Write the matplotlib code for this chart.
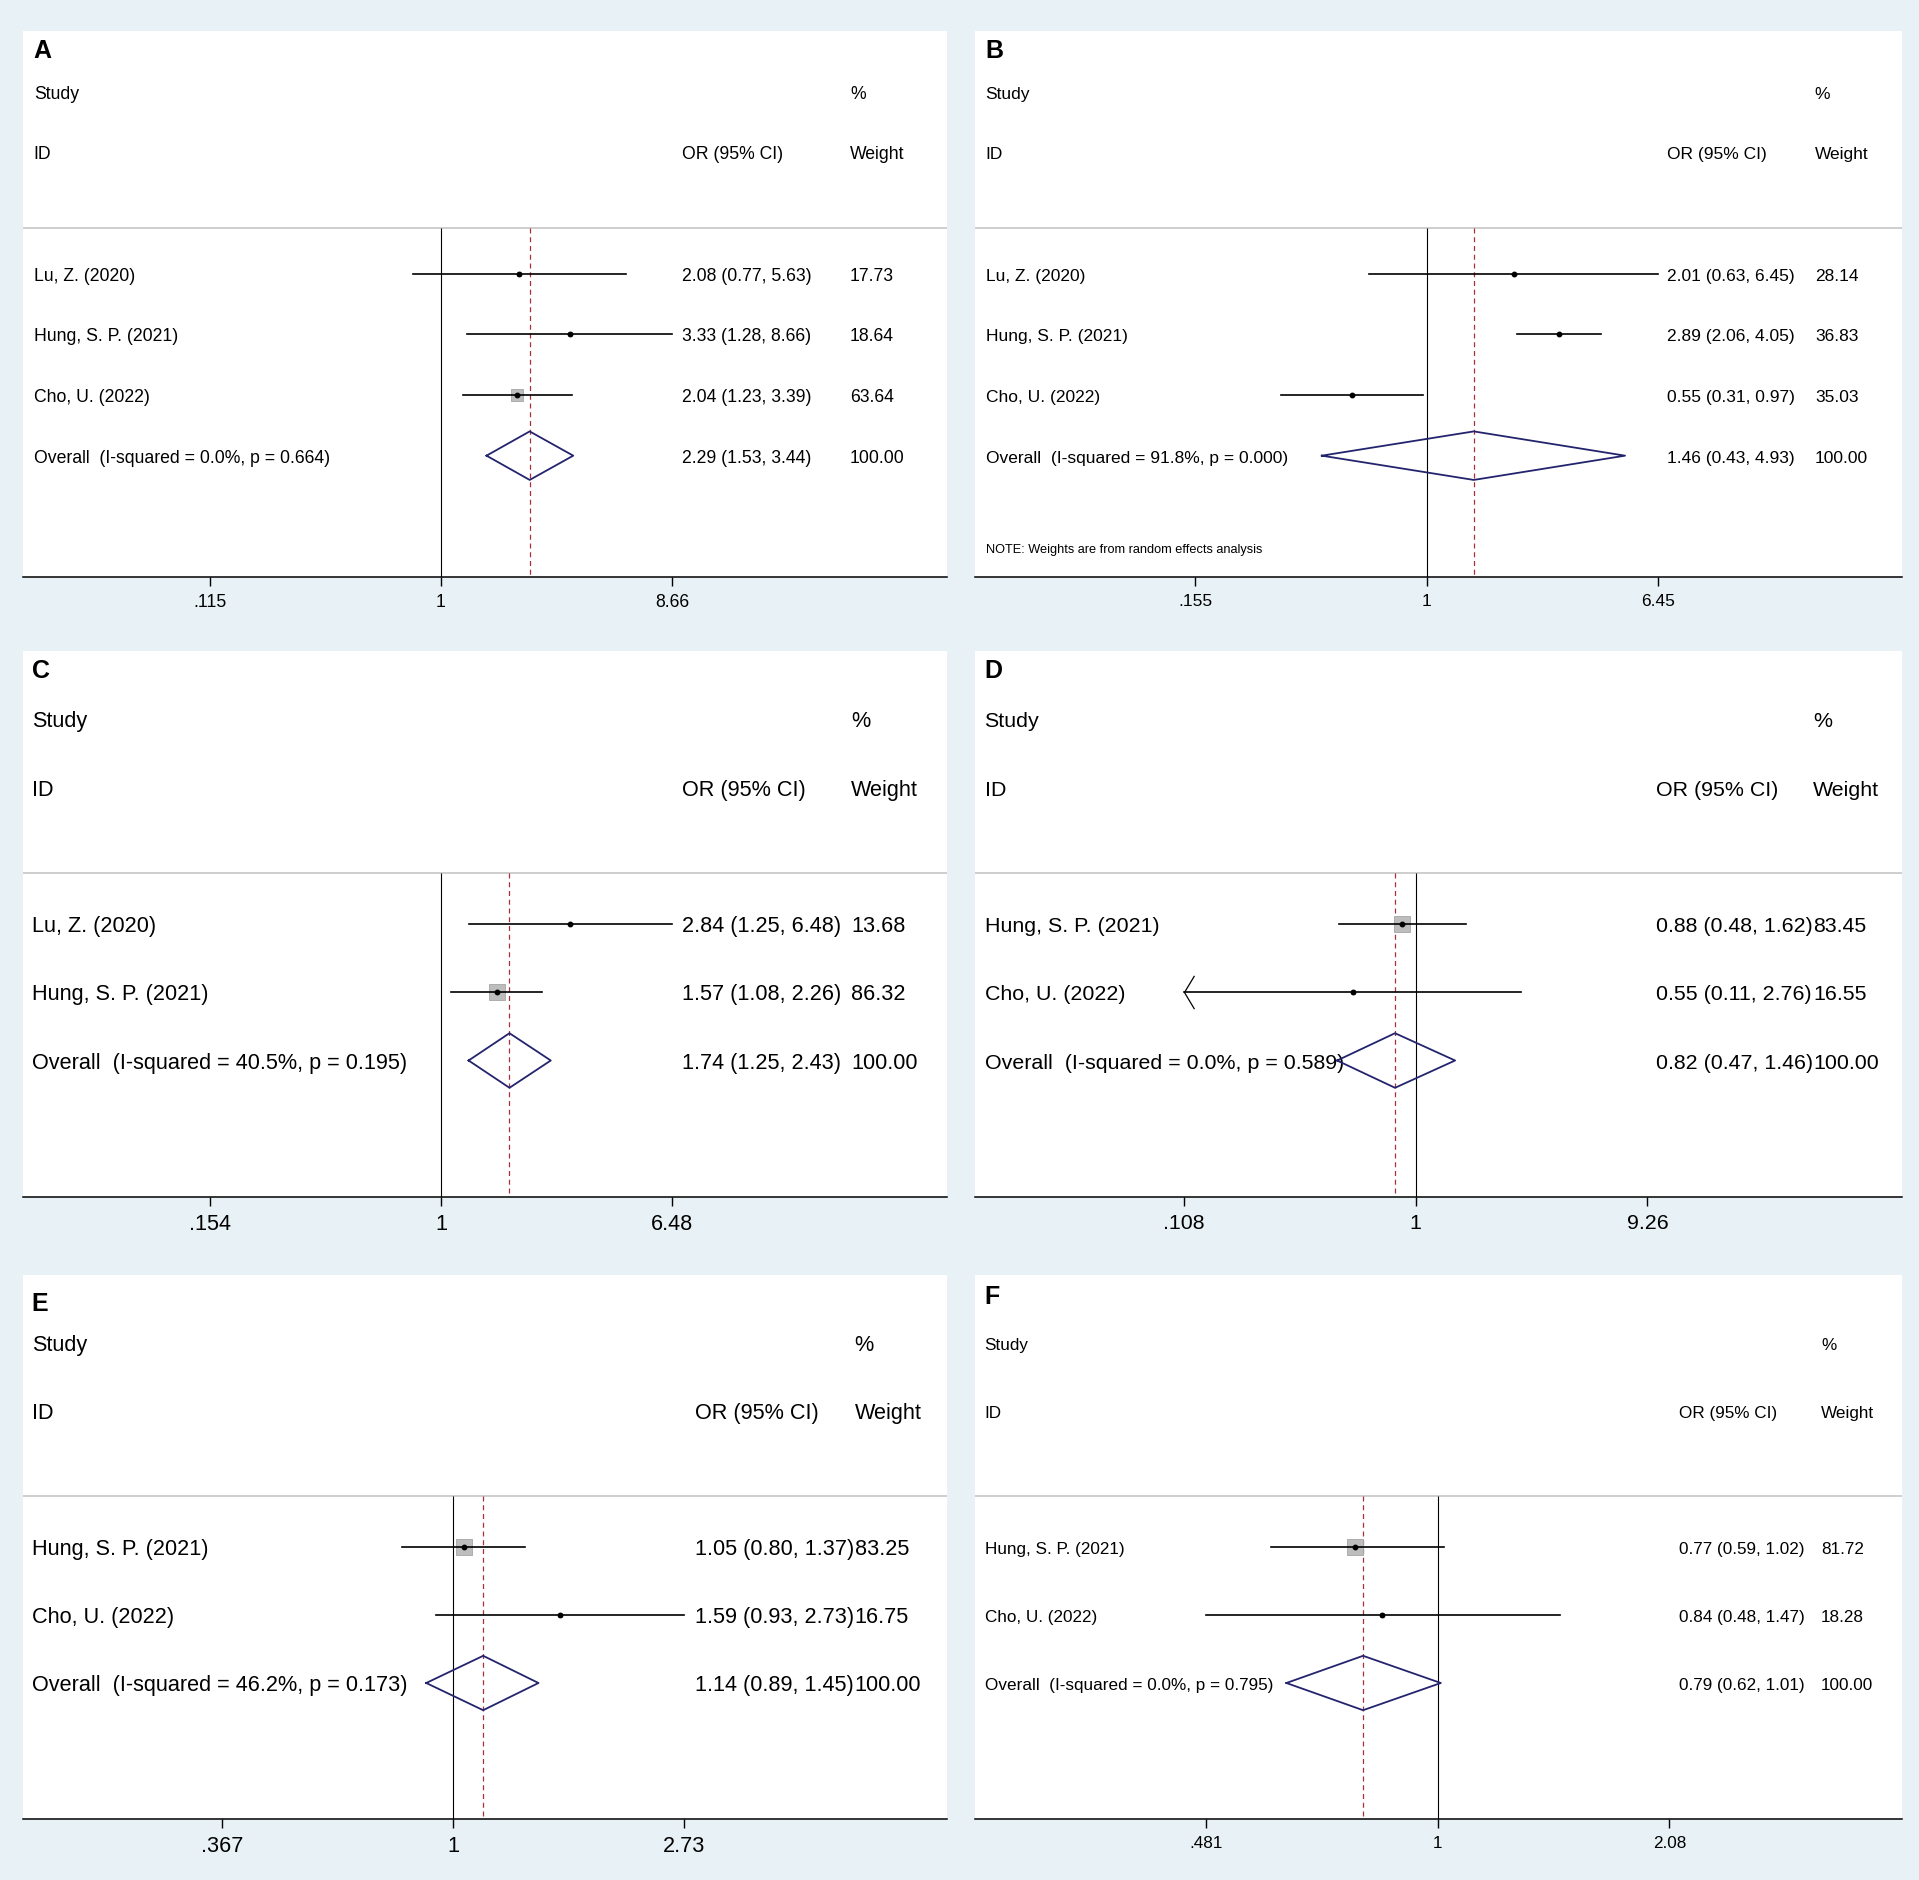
import numpy as np
import matplotlib
matplotlib.use("Agg")
import matplotlib.pyplot as plt
from matplotlib.path import Path
from matplotlib.ticker import NullLocator
from matplotlib.transforms import blended_transform_factory

plt.rcParams["font.family"] = ["Liberation Sans", "DejaVu Sans"]

# ---- data ----
A_STUDIES = ["Lu, Z. (2020)", "Hung, S. P. (2021)", "Cho, U. (2022)"]
A_OR = [2.08, 3.33, 2.04]
A_LO = [0.77, 1.28, 1.23]
A_HI = [5.63, 8.66, 3.39]
A_WEIGHT = [17.73, 18.64, 63.64]
A_OVERALL = [2.29, 1.53, 3.44]
A_HET = [0.0, 0.664]
A_TICKS = [0.115, 1, 8.66]

B_STUDIES = ["Lu, Z. (2020)", "Hung, S. P. (2021)", "Cho, U. (2022)"]
B_OR = [2.01, 2.89, 0.55]
B_LO = [0.63, 2.06, 0.31]
B_HI = [6.45, 4.05, 0.97]
B_WEIGHT = [28.14, 36.83, 35.03]
B_OVERALL = [1.46, 0.43, 4.93]
B_HET = [91.8, 0.000]
B_TICKS = [0.155, 1, 6.45]
B_NOTE = "NOTE: Weights are from random effects analysis"

C_STUDIES = ["Lu, Z. (2020)", "Hung, S. P. (2021)"]
C_OR = [2.84, 1.57]
C_LO = [1.25, 1.08]
C_HI = [6.48, 2.26]
C_WEIGHT = [13.68, 86.32]
C_OVERALL = [1.74, 1.25, 2.43]
C_HET = [40.5, 0.195]
C_TICKS = [0.154, 1, 6.48]

D_STUDIES = ["Hung, S. P. (2021)", "Cho, U. (2022)"]
D_OR = [0.88, 0.55]
D_LO = [0.48, 0.106]   # runs past the .108 tick, shown as an arrow
D_HI = [1.62, 2.76]
D_WEIGHT = [83.45, 16.55]
D_OVERALL = [0.82, 0.47, 1.46]
D_HET = [0.0, 0.589]
D_TICKS = [0.108, 1, 9.26]

E_STUDIES = ["Hung, S. P. (2021)", "Cho, U. (2022)"]
E_OR = [1.05, 1.59]
E_LO = [0.80, 0.93]
E_HI = [1.37, 2.73]
E_WEIGHT = [83.25, 16.75]
E_OVERALL = [1.14, 0.89, 1.45]
E_HET = [46.2, 0.173]
E_TICKS = [0.367, 1, 2.73]

F_STUDIES = ["Hung, S. P. (2021)", "Cho, U. (2022)"]
F_OR = [0.77, 0.84]
F_LO = [0.59, 0.48]
F_HI = [1.02, 1.47]
F_WEIGHT = [81.72, 18.28]
F_OVERALL = [0.79, 0.62, 1.01]
F_HET = [0.0, 0.795]
F_TICKS = [0.481, 1, 2.08]

# ---- layout (figure fractions, per panel) ----
W, H = 1919, 1880
COLS = [(23, 947), (975, 1902)]
ROWS = [(31, 577), (651, 1197), (1275, 1819)]


def rect(col, row):
    x0, x1 = COLS[col]
    y0, y1 = ROWS[row]
    return [x0 / W, 1 - y1 / H, (x1 - x0) / W, (y1 - y0) / H]


LAYOUT = {
    "A": dict(rect=rect(0, 0), one=0.4524, fs=12.7, name=0.0116, orc=0.7128, wt=0.895, lab=0.037, box=0.19),
    "B": dict(rect=rect(1, 0), one=0.4873, fs=12.5, name=0.0115, orc=0.747, wt=0.906, lab=0.036, box=0.07),
    "C": dict(rect=rect(0, 1), one=0.4524, fs=15.6, name=0.0095, orc=0.713, wt=0.896, lab=0.036, box=0.19),
    "D": dict(rect=rect(1, 1), one=0.4754, fs=15.4, name=0.0103, orc=0.7347, wt=0.904, lab=0.036, box=0.19),
    "E": dict(rect=rect(0, 2), one=0.4654, fs=15.6, name=0.0095, orc=0.727, wt=0.900, lab=0.054, box=0.19),
    "F": dict(rect=rect(1, 2), one=0.4991, fs=12.3, name=0.0103, orc=0.7595, wt=0.9126, lab=0.0405, box=0.19),
}

BG = "#e8f1f5"
RED = "#a8303c"
NAVY = "#24246e"
TXT_DY = 0.04   # texts sit a touch below the row centre

# chevron used when a CI runs past the lower tick
ARROW = Path([(0.6, 1.0), (0.0, 0.0), (0.6, -1.0)],
             [Path.MOVETO, Path.LINETO, Path.LINETO])


def fmt_tick(v):
    s = f"{v:g}"
    return s[1:] if s.startswith("0.") else s


def draw_panel(fig, letter, studies, est, lo, hi, weight, overall, het, ticks, note=None):
    lay = LAYOUT[letter]
    fs = lay["fs"]
    n = len(studies)
    ax = fig.add_axes(lay["rect"])
    ax.set_facecolor("white")
    for side in ("top", "left", "right"):
        ax.spines[side].set_visible(False)
    ax.spines["bottom"].set_linewidth(1.1)

    L = np.log(ticks[-1])
    f1 = lay["one"]
    ax.set_xscale("log")
    ax.set_xlim(np.exp(-f1 / 0.25 * L), np.exp((1 - f1) / 0.25 * L))
    ax.set_ylim(n + 3, -3)
    ax.set_xticks(ticks)
    ax.set_xticklabels([fmt_tick(t) for t in ticks])
    ax.xaxis.set_minor_locator(NullLocator())
    ax.set_yticks([])
    ax.tick_params(axis="x", length=6.3, width=1, pad=6, labelsize=fs, colors="black")

    # header rule and reference lines
    ax.axhline(0.25, color="#c6c6c6", lw=1.2)
    ax.vlines(1, 0.25, n + 3, color="black", lw=0.8)
    ax.vlines(overall[0], 0.25, n + 3, color=RED, lw=0.9, linestyles=(0, (4, 3)))

    low_lim = ticks[0]
    for i in range(n):
        y = i + 1
        ax.plot(est[i], y, marker="s", ms=lay["box"] * weight[i] * 0.72,
                mfc="#bdbdbd", mec="#a6a6a6", mew=0.6, ls="none", zorder=3)
        x0 = max(lo[i], low_lim)
        ax.plot([x0, hi[i]], [y, y], color="black", lw=1.2, zorder=4)
        if lo[i] < low_lim * 0.99:
            ax.plot(low_lim, y, marker=ARROW, ms=24, mfc="none", mec="black",
                    mew=0.9, ls="none", zorder=4)
        ax.plot(est[i], y, "o", color="black", ms=3.2, zorder=5)

    # pooled diamond
    yo = n + 1
    ax.plot([overall[1], overall[0], overall[2], overall[0], overall[1]],
            [yo, yo - 0.4, yo, yo + 0.4, yo], color=NAVY, lw=1.3, zorder=4)

    tr = blended_transform_factory(ax.transAxes, ax.transData)
    kw = dict(transform=tr, fontsize=fs, va="center", ha="left", color="black")
    d = TXT_DY
    ax.text(lay["name"], -2 + d, "Study", **kw)
    ax.text(lay["wt"], -2 + d, "%", **kw)
    ax.text(lay["name"], -1 + d, "ID", **kw)
    ax.text(lay["orc"], -1 + d, "OR (95% CI)", **kw)
    ax.text(lay["wt"], -1 + d, "Weight", **kw)
    for i in range(n):
        y = i + 1 + d
        ax.text(lay["name"], y, studies[i], **kw)
        ax.text(lay["orc"], y, f"{est[i]:.2f} ({lo[i]:.2f}, {hi[i]:.2f})", **kw)
        ax.text(lay["wt"], y, f"{weight[i]:.2f}", **kw)
    ax.text(lay["name"], yo + d, f"Overall  (I-squared = {het[0]:.1f}%, p = {het[1]:.3f})", **kw)
    ax.text(lay["orc"], yo + d, f"{overall[0]:.2f} ({overall[1]:.2f}, {overall[2]:.2f})", **kw)
    ax.text(lay["wt"], yo + d, f"{100:.2f}", **kw)
    if note:
        ax.text(lay["name"], yo + 1.55, note, transform=tr, fontsize=9.2,
                va="center", ha="left")

    ax.text(lay["name"], 1 - lay["lab"], letter, transform=ax.transAxes,
            fontsize=18, fontweight="bold", va="center", ha="left")
    return ax


fig = plt.figure(figsize=(W / 100, H / 100), dpi=100, facecolor=BG)

draw_panel(fig, "A", A_STUDIES, A_OR, A_LO, A_HI, A_WEIGHT, A_OVERALL, A_HET, A_TICKS)
draw_panel(fig, "B", B_STUDIES, B_OR, B_LO, B_HI, B_WEIGHT, B_OVERALL, B_HET, B_TICKS, note=B_NOTE)
draw_panel(fig, "C", C_STUDIES, C_OR, C_LO, C_HI, C_WEIGHT, C_OVERALL, C_HET, C_TICKS)
draw_panel(fig, "D", D_STUDIES, D_OR, D_LO, D_HI, D_WEIGHT, D_OVERALL, D_HET, D_TICKS)
draw_panel(fig, "E", E_STUDIES, E_OR, E_LO, E_HI, E_WEIGHT, E_OVERALL, E_HET, E_TICKS)
draw_panel(fig, "F", F_STUDIES, F_OR, F_LO, F_HI, F_WEIGHT, F_OVERALL, F_HET, F_TICKS)

fig.savefig("out.png", dpi=100, facecolor=BG)
